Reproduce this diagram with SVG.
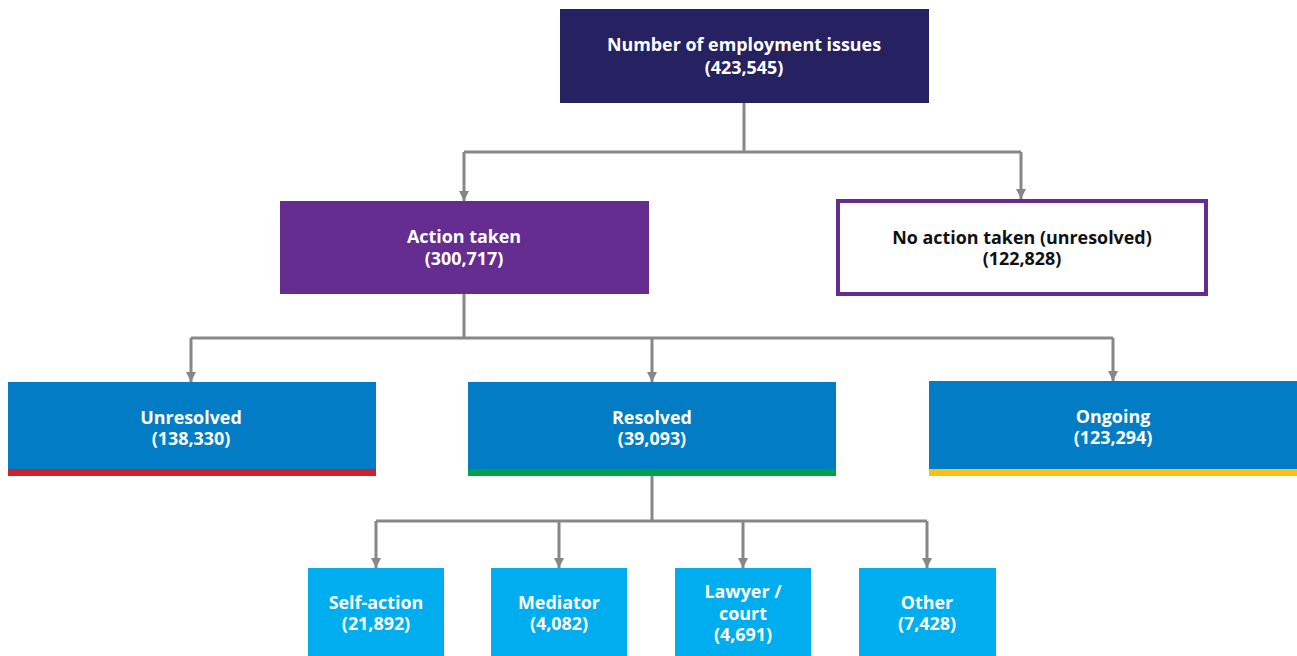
<svg xmlns="http://www.w3.org/2000/svg" width="1297" height="656" viewBox="0 0 1297 656">
<style>
text{font-family:"Open Sans","Noto Sans","Liberation Sans",sans-serif;font-weight:bold;font-size:17.9px;text-anchor:middle;fill:#fff}
.dark{fill:#111}
.conn{fill:none;stroke:#878787;stroke-width:3}
.blue{fill:#027dc5}
.light{fill:#00aeef}
</style>
<defs>
<marker id="arr" viewBox="0 0 10 10" refX="10" refY="5" markerWidth="10" markerHeight="10" markerUnits="userSpaceOnUse" orient="auto">
<path d="M0,0 L10,5 L0,10 z" fill="#878787"/>
</marker>
</defs>
<g id="connectors">
<path class="conn" d="M744,103 V152 M464,152 H1021"/>
<path class="conn" d="M464,152 V201" marker-end="url(#arr)"/>
<path class="conn" d="M1021,152 V199" marker-end="url(#arr)"/>
<path class="conn" d="M464,294 V338 M191,338 H1113"/>
<path class="conn" d="M191,338 V382" marker-end="url(#arr)"/>
<path class="conn" d="M652,338 V382" marker-end="url(#arr)"/>
<path class="conn" d="M1113,338 V381" marker-end="url(#arr)"/>
<path class="conn" d="M652,476 V521 M376,521 H927"/>
<path class="conn" d="M376,521 V568" marker-end="url(#arr)"/>
<path class="conn" d="M559,521 V568" marker-end="url(#arr)"/>
<path class="conn" d="M743,521 V568" marker-end="url(#arr)"/>
<path class="conn" d="M927,521 V568" marker-end="url(#arr)"/>
</g>
<g id="root">
<rect x="560" y="9" width="369" height="94" fill="#262262"/>
<text x="744" y="51">Number of employment issues</text>
<text x="744" y="74">(423,545)</text>
</g>
<g id="action">
<rect x="280" y="201" width="369" height="93" fill="#662d91"/>
<text x="464" y="243">Action taken</text>
<text x="464" y="265">(300,717)</text>
</g>
<g id="noaction">
<rect x="838" y="201" width="368" height="93" fill="#fff" stroke="#662d91" stroke-width="4"/>
<text class="dark" x="1022" y="244">No action taken (unresolved)</text>
<text class="dark" x="1022" y="265">(122,828)</text>
</g>
<g id="unresolved">
<rect class="blue" x="8" y="382" width="368" height="94"/>
<rect x="8" y="469" width="368" height="7" fill="#cf2128"/>
<text x="191" y="424">Unresolved</text>
<text x="191" y="445">(138,330)</text>
</g>
<g id="resolved">
<rect class="blue" x="468" y="382" width="368" height="94"/>
<rect x="468" y="469" width="368" height="7" fill="#00a14b"/>
<text x="652" y="424">Resolved</text>
<text x="652" y="445">(39,093)</text>
</g>
<g id="ongoing">
<rect class="blue" x="929" y="381" width="368" height="95"/>
<rect x="929" y="469" width="368" height="7" fill="#fdc010"/>
<text x="1113" y="423">Ongoing</text>
<text x="1113" y="444">(123,294)</text>
</g>
<g id="self">
<rect class="light" x="308" y="568" width="136" height="88"/>
<text x="376" y="609">Self-action</text>
<text x="376" y="630">(21,892)</text>
</g>
<g id="mediator">
<rect class="light" x="491" y="568" width="136" height="88"/>
<text x="559" y="609">Mediator</text>
<text x="559" y="630">(4,082)</text>
</g>
<g id="lawyer">
<rect class="light" x="675" y="568" width="136" height="88"/>
<text x="743" y="598">Lawyer /</text>
<text x="743" y="620">court</text>
<text x="743" y="641">(4,691)</text>
</g>
<g id="other">
<rect class="light" x="859" y="568" width="137" height="88"/>
<text x="927" y="609">Other</text>
<text x="927" y="630">(7,428)</text>
</g>
</svg>
